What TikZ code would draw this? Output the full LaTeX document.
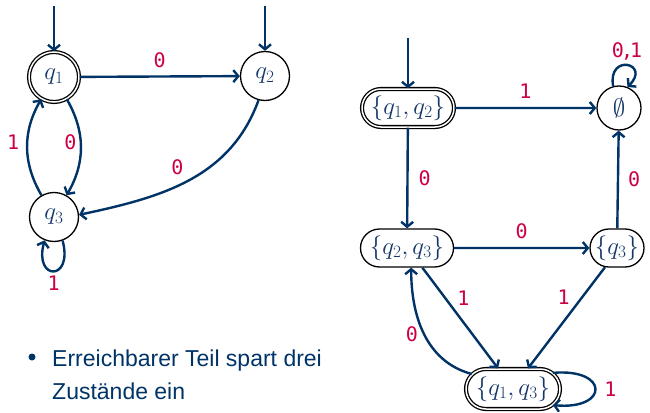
\documentclass[tikz,border=0pt]{standalone}
\usepackage{fontspec}
\setmainfont{Liberation Sans}
\newfontfamily\labelfont{DejaVu Sans Mono}
\usetikzlibrary{arrows.meta,shapes.misc,shapes.geometric}

\definecolor{arr}{RGB}{0,51,102}
\definecolor{stc}{RGB}{20,55,105}
\definecolor{labc}{RGB}{204,0,68}

\tikzset{
  st/.style={circle, draw=black, line width=1.3pt, minimum size=49pt, inner sep=0pt,
    font=\fontsize{27}{30}\selectfont, text=stc},
  rst/.style={rounded rectangle, draw=black, line width=1.3pt, minimum height=38pt,
    inner xsep=4pt, inner ysep=0pt, font=\fontsize{27}{30}\selectfont, text=stc},
  acc/.style={double=white, double distance=1.5pt},
  tr/.style={draw=arr, line width=2.4pt, -{Straight Barb[length=5pt,width=12pt]}},
  lab/.style={text=labc, font=\labelfont\fontsize{20}{22}\selectfont, inner sep=2pt},
}

\begin{document}
\begin{tikzpicture}[x=1pt,y=-1pt]
\useasboundingbox (0,0) rectangle (650,412);

% NFA
\node[st, acc, minimum size=50pt] (q1) at (54,77) {$q_1$};
\node[st] (q2) at (265,76) {$q_2$};
\node[st] (q3) at (54,217) {$q_3$};
\coordinate (s1) at (54,6);
\coordinate (s2) at (265,6);

\draw[tr] (s1) -- (q1);
\draw[tr] (s2) -- (q2);
\draw[tr] (q1) -- node[lab, above=6pt] {0} (q2);
\draw[tr] (q1.-60) to[bend left=30] node[lab, pos=.45, left=1pt] {0} (q3.60);
\draw[tr] (q3.120) to[bend left=30] node[lab, pos=.55, left=5pt] {1} (q1.-120);
\draw[tr] (q2.-105) to[out=-110,in=12] node[lab, pos=.5, above left=2pt] {0} (q3.5);
\draw[tr] (q3.-70) to[out=-75,in=-105,looseness=6] node[lab, below=2pt] {1} (q3.-112);

% subset automaton
\node[rst, acc, minimum width=100pt] (A) at (408,108) {$\{q_1,q_2\}$};
\node[st, minimum size=44pt] (E) at (619,108) {$\emptyset$};
\node[rst, minimum width=101pt] (B) at (407,248) {$\{q_2,q_3\}$};
\node[rst, minimum width=62pt] (C) at (617,248) {$\{q_3\}$};
\node[rst, acc, minimum width=102pt, minimum height=40pt] (D) at (513,389) {$\{q_1,q_3\}$};
\coordinate (s3) at (408,38);

\draw[tr] (s3) -- (A);
\draw[tr] (A) -- node[lab, above=6pt] {1} (E);
\draw[tr] (A) -- node[lab, right=8pt] {0} (B);
\draw[tr] (B) -- node[lab, above=6pt] {0} (C);
\draw[tr] (C) -- node[lab, right=7pt] {0} (E);
\draw[tr] (B.-52) -- node[lab, pos=.3, right=9pt] {1} (D.126);
\draw[tr] (C.-122) -- node[lab, pos=.3, left=9pt] {1} (D.54);
\draw[tr] (D.160) to[out=165,in=-90] node[lab, pos=.5, left=3pt] {0} (B.-78);
\draw[tr] (D.22) to[out=5,in=-5,looseness=4.5] node[lab, right=6pt] {1} (D.-22);
\draw[tr] (E.105) to[out=100,in=45,looseness=6] node[lab, above=2pt] {0\kern-3pt,\kern-3pt1} (E.68);

% note
\node[circle, fill=arr, minimum size=7pt, inner sep=0pt] (bul) at (32,357) {};
\node[anchor=base west, align=left, inner sep=0pt, text=arr,
      font=\fontsize{23}{33}\selectfont] (note) at (52,399)
  {Erreichbarer Teil spart drei\\Zustände ein};
\end{tikzpicture}
\end{document}
